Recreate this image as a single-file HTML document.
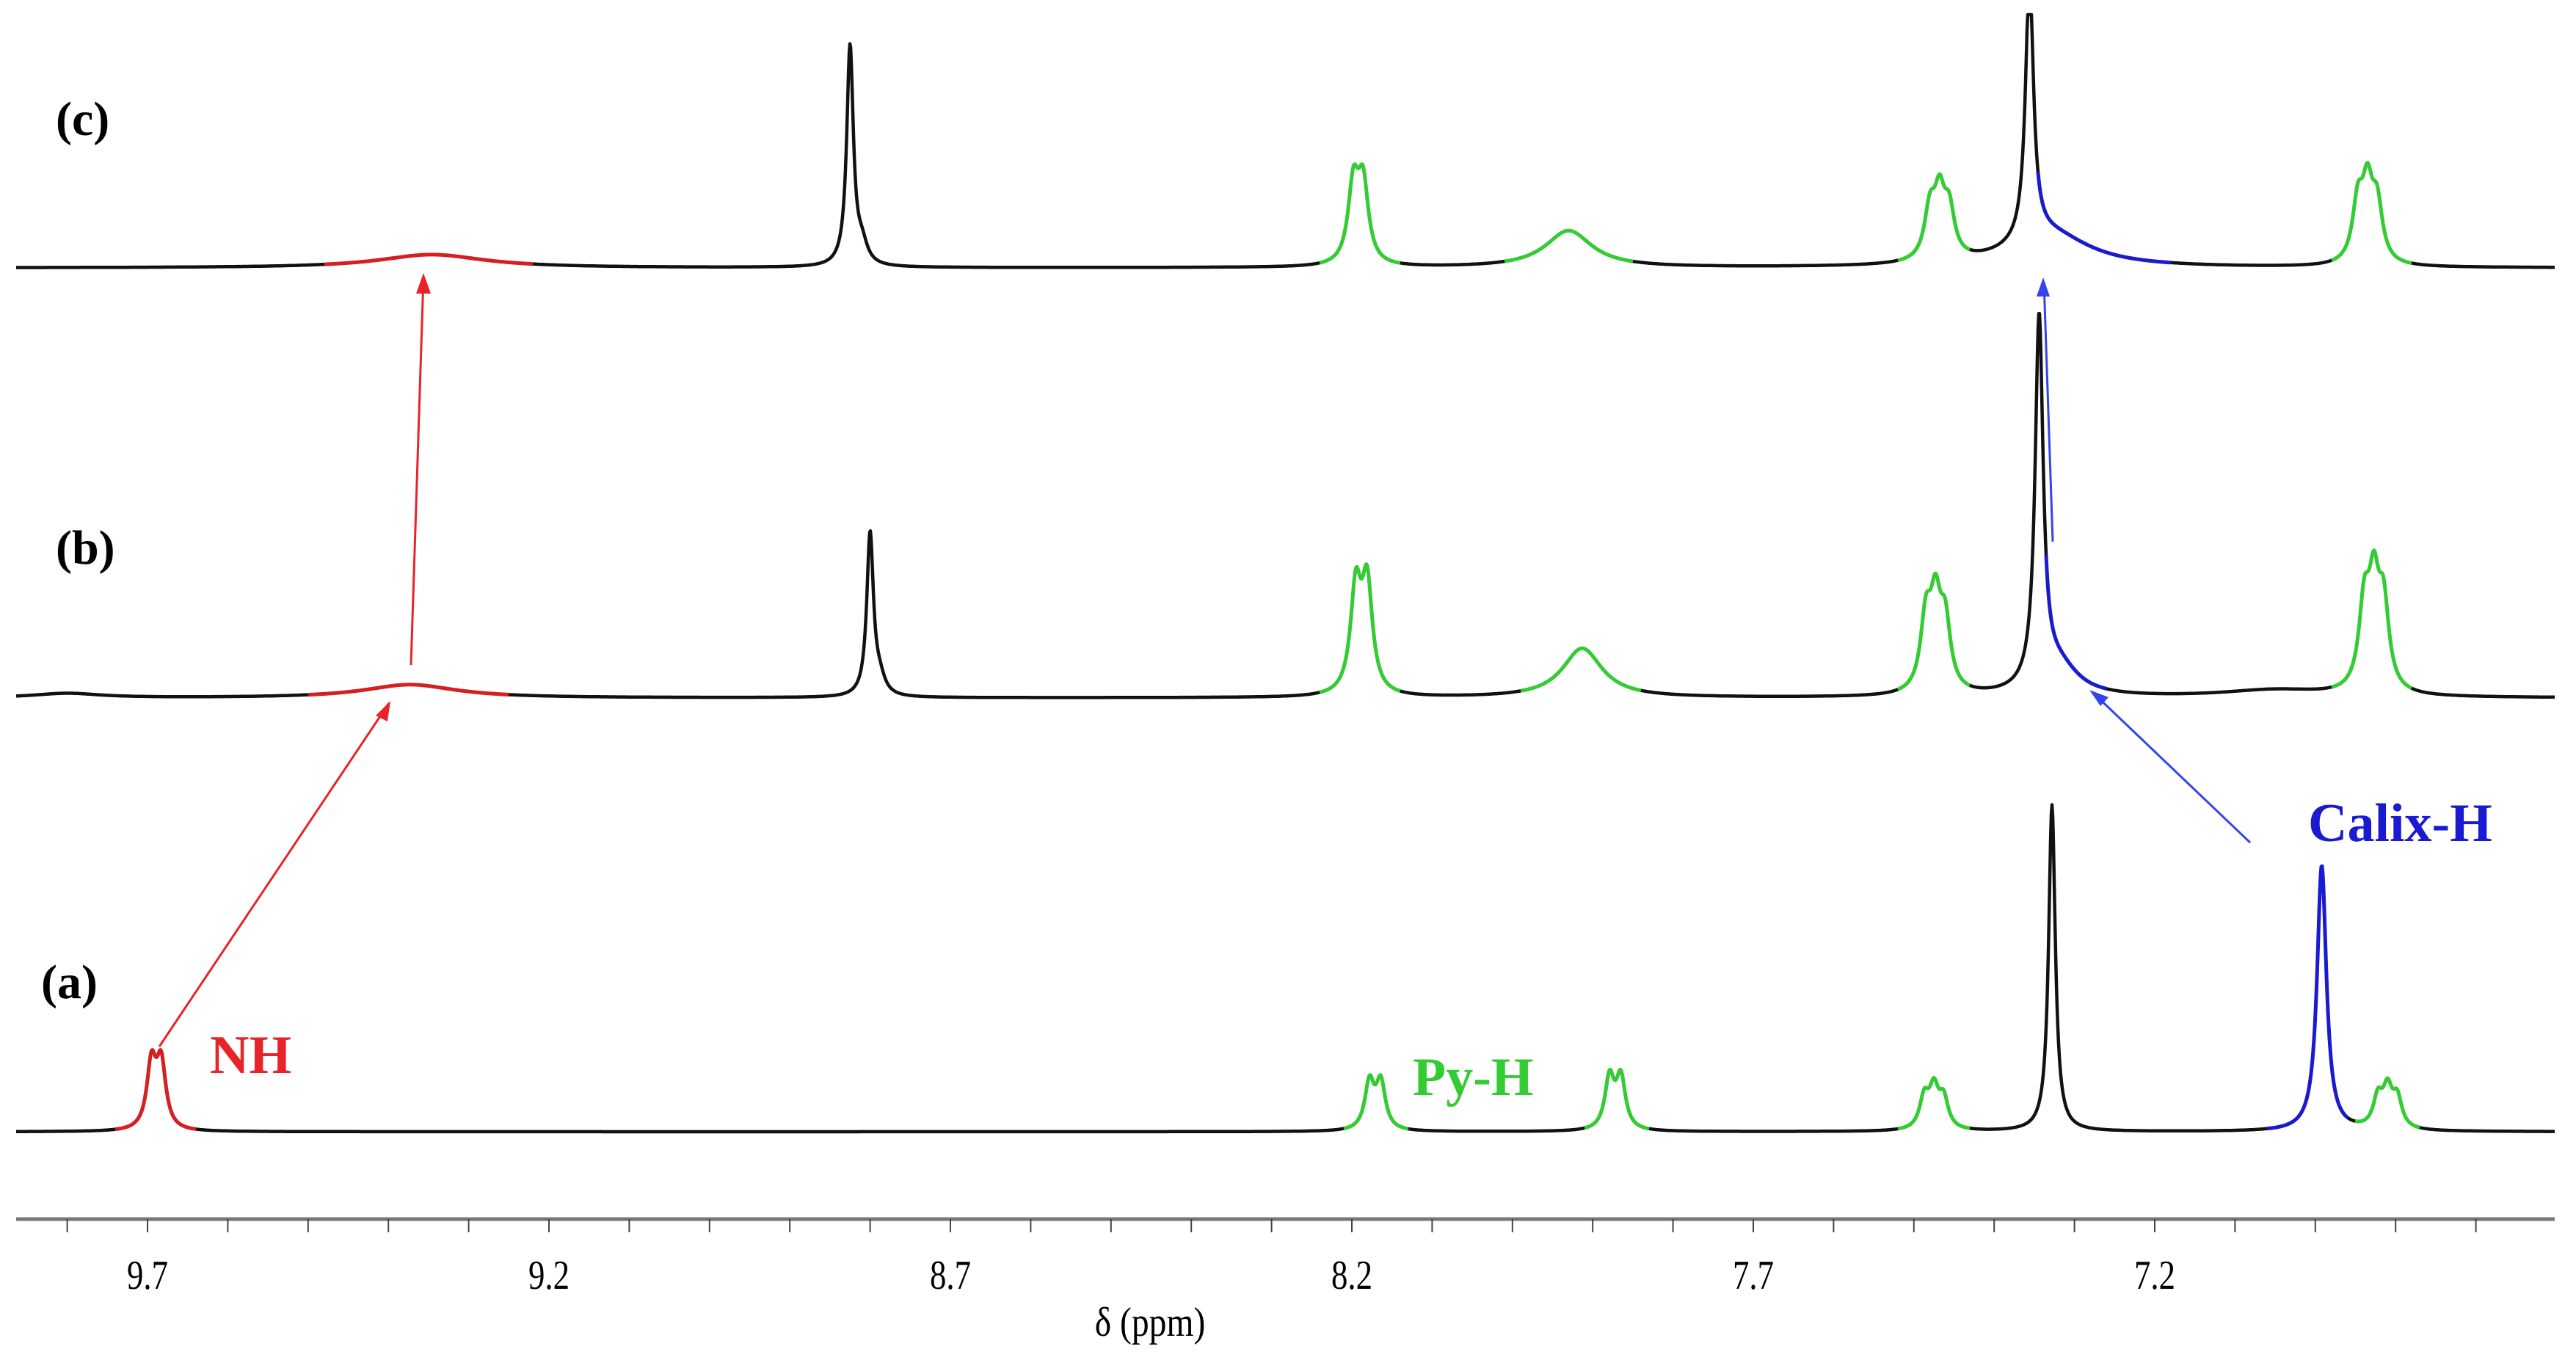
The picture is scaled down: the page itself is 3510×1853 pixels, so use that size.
<!DOCTYPE html>
<html><head><meta charset="utf-8">
<style>
html,body{margin:0;padding:0;background:#fff;}
svg{display:block;}
</style></head>
<body>
<svg id="chart" width="3510" height="1853" viewBox="0 0 3510 1853" xmlns="http://www.w3.org/2000/svg">
<g id="traces"></g>
<g id="axis"></g>
<g id="annot">
  <line x1="217" y1="1426" x2="530" y2="958" stroke="#e8232a" stroke-width="3"/>
  <line x1="560" y1="906" x2="577" y2="378" stroke="#e8232a" stroke-width="3"/>
  <polygon points="577,372 567,400 587,400" fill="#e8232a"/>
  <polygon points="532,955 512,975 528,983" fill="#e8232a"/>
  <line x1="3066" y1="1148" x2="2852" y2="944" stroke="#3344ee" stroke-width="3"/>
  <polygon points="2847,940 2873,950 2862,962" fill="#3344ee"/>
  <line x1="2797" y1="738" x2="2785" y2="384" stroke="#3344ee" stroke-width="3"/>
  <polygon points="2784,378 2775,404 2793,404" fill="#3344ee"/>
  <text x="76" y="184" font-family="Liberation Serif, serif" font-weight="bold" font-size="66">(c)</text>
  <text x="76" y="768" font-family="Liberation Serif, serif" font-weight="bold" font-size="66">(b)</text>
  <text x="56" y="1360" font-family="Liberation Serif, serif" font-weight="bold" font-size="66">(a)</text>
  <text x="286" y="1462" font-family="Liberation Serif, serif" font-weight="bold" font-size="74" fill="#e8232a">NH</text>
  <text x="1925" y="1492" font-family="Liberation Serif, serif" font-weight="bold" font-size="74" fill="#33cc33">Py-H</text>
  <text x="3145" y="1146" font-family="Liberation Serif, serif" font-weight="bold" font-size="74" fill="#1a1ad0">Calix-H</text>
</g>
</svg>
<script>
// Peak data (ppm, height in px, half-width in ppm)
const ppmA=[9.695,9.683, 8.178,8.164, 7.879,7.865, 7.487,7.475,7.463, 7.328, 6.992, 6.922,6.910,6.898];
const hA  =[88,88, 64,64, 70,70, 42,52,40, 445, 362, 40,50,40];
const wA  =[0.007,0.007, 0.007,0.007, 0.007,0.007, 0.007,0.007,0.007, 0.005, 0.007, 0.007,0.007,0.007];
const ppmB=[9.80, 9.373, 8.800,8.788, 8.195,8.181, 7.913, 7.485,7.473,7.461, 7.344, 7.320, 7.050, 6.939,6.927,6.915];
const hB  =[6, 18, 222,20, 140,145, 67, 95,110,88, 500, 40, 10, 110,130,110];
const wB  =[0.05, 0.07, 0.005,0.008, 0.008,0.008, 0.03, 0.008,0.008,0.008, 0.006, 0.03, 0.08, 0.008,0.008,0.008];
const ppmC=[9.346, 8.825,8.810, 8.198,8.186, 7.930, 7.480,7.468,7.456, 7.356, 7.330, 6.947,6.935,6.923];
const hC  =[18, 300,25, 105,105, 50, 65,80,62, 360, 45, 78,95,75];
const wC  =[0.08, 0.005,0.008, 0.008,0.008, 0.035, 0.008,0.008,0.008, 0.006, 0.06, 0.008,0.008,0.008];
// Colored ranges [ppmHigh, ppmLow]
const colRangeA=[[9.74,9.64,'#d42020'],[8.21,8.13,'#33cc33'],[7.91,7.83,'#33cc33'],[7.52,7.43,'#33cc33'],[7.06,6.96,'#1a1ad0'],[6.95,6.87,'#33cc33']];
const colRangeB=[[9.50,9.25,'#d42020'],[8.24,8.14,'#33cc33'],[7.99,7.84,'#33cc33'],[7.52,7.43,'#33cc33'],[7.335,7.26,'#1a1ad0'],[6.98,6.88,'#33cc33']];
const colRangeC=[[9.48,9.22,'#d42020'],[8.24,8.14,'#33cc33'],[8.01,7.85,'#33cc33'],[7.52,7.43,'#33cc33'],[7.345,7.18,'#1a1ad0'],[6.98,6.88,'#33cc33']];
const baselines=[1542,951,365];
const tickLabels=[9.7,9.2,8.7,8.2,7.7,7.2];

const NS='http://www.w3.org/2000/svg';
const X0=22, X1=3481;
function xOf(p){return 201+(9.7-p)*1094;}
function pOf(x){return 9.7-(x-201)/1094;}
function spec(p,P,H,W){let s=0;for(let i=0;i<P.length;i++){const d=(p-P[i])/W[i];s+=H[i]/(1+d*d);}return s;}
const traces=document.getElementById('traces');
function drawSpectrum(P,H,W,base,ranges,name,clipTop){
  function pathFor(xa,xb){
    let d='';
    for(let x=xa;x<=xb;x+=1){let y=base-spec(pOf(x),P,H,W);if(y<clipTop)y=clipTop;d+=(d?'L':'M')+x+','+y.toFixed(1);}
    return d;
  }
  const p=document.createElementNS(NS,'path');
  p.setAttribute('d',pathFor(X0,X1));
  p.setAttribute('fill','none');p.setAttribute('stroke','#111');p.setAttribute('stroke-width','4.5');p.setAttribute('stroke-linejoin','round');
  
  
  traces.appendChild(p);
  ranges.forEach(r=>{
    const q=document.createElementNS(NS,'path');
    q.setAttribute('d',pathFor(Math.round(xOf(r[0])),Math.round(xOf(r[1]))));
    q.setAttribute('fill','none');q.setAttribute('stroke',r[2]);q.setAttribute('stroke-width','5');q.setAttribute('stroke-linejoin','round');
    
    
    traces.appendChild(q);
  });
}
drawSpectrum(ppmA,hA,wA,baselines[0],colRangeA,'spectrum-a',0);
drawSpectrum(ppmB,hB,wB,baselines[1],colRangeB,'spectrum-b',0);
drawSpectrum(ppmC,hC,wC,baselines[2],colRangeC,'spectrum-c',20);

const axis=document.getElementById('axis');
const AY=1661;
const al=document.createElementNS(NS,'line');
al.setAttribute('x1',X0);al.setAttribute('x2',X1);al.setAttribute('y1',AY);al.setAttribute('y2',AY);
al.setAttribute('stroke','#777');al.setAttribute('stroke-width','5');


axis.appendChild(al);
for(let k=-2;k<=32;k++){
  const p=9.7-k*0.1;const x=xOf(p);
  if(x<X0||x>X1)continue;
  const t=document.createElementNS(NS,'line');
  t.setAttribute('x1',x);t.setAttribute('x2',x);t.setAttribute('y1',AY);t.setAttribute('y2',AY+18);
  t.setAttribute('stroke','#444');t.setAttribute('stroke-width','2');
  
  
  axis.appendChild(t);
}
tickLabels.forEach(v=>{
  const t=document.createElementNS(NS,'text');
  const x=xOf(v);
  t.setAttribute('x',x/0.8);t.setAttribute('y',1756);
  t.setAttribute('transform','scale(0.8,1)');
  t.setAttribute('text-anchor','middle');t.setAttribute('font-family','Liberation Serif, serif');t.setAttribute('font-size','56');
  
  
  t.textContent=v.toFixed(1);
  axis.appendChild(t);
});
const xt=document.createElementNS(NS,'text');
xt.setAttribute('x',1567/0.85);xt.setAttribute('y',1820);xt.setAttribute('text-anchor','middle');
xt.setAttribute('transform','scale(0.85,1)');
xt.setAttribute('font-family','Liberation Serif, serif');xt.setAttribute('font-size','56');


xt.textContent='δ (ppm)';
axis.appendChild(xt);
</script>
</body></html>
